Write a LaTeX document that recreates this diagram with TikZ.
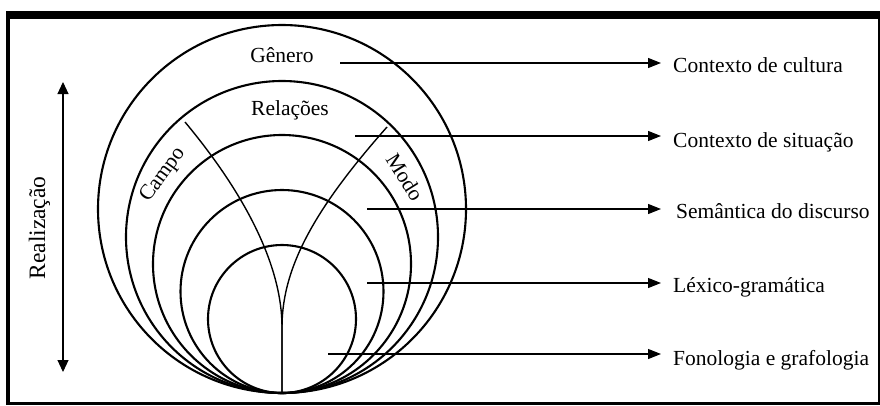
\documentclass[tikz,border=0pt]{standalone}
\usepackage{fontspec}
\setmainfont{Liberation Serif}
\usetikzlibrary{arrows.meta}
\begin{document}
\begin{tikzpicture}[x=1pt,y=-1pt,
  circ/.style={line width=2.1pt},
  strand/.style={line width=1.4pt},
  arr/.style={line width=1.1pt,-{Triangle[length=13pt,width=10pt]}},
  lbl/.style={font=\fontsize{21.5}{25}\selectfont, inner sep=0pt},
]
\useasboundingbox (0,0) rectangle (880,405);
% frame
\fill[black] (6,11) rectangle (880,405);
\fill[white] (10,19) rectangle (878,402);
% circles, all tangent at the bottom point
\foreach \r in {184,156,129,101.5,74}
  \draw[circ] (282,393-\r) circle[radius=\r pt];
% Campo and Modo strands
\coordinate (campoS) at (185,122);
\coordinate (modoS) at (387,127);
\coordinate (cusp) at (282,327);
\coordinate (tip) at (282,393);
\draw[strand] (campoS) .. controls (250,200) and (282,270) .. (cusp) -- (tip);
\draw[strand] (modoS) .. controls (318,205) and (282,265) .. (cusp) -- (tip);
% inner labels
\node[lbl,anchor=base] (genero) at (282,62) {Gênero};
\node[lbl,anchor=base] (relacoes) at (290,115) {Relações};
\node[lbl,rotate=54] (campo) at (163,175) {Campo};
\node[lbl,rotate=-58] (modo) at (405,177) {Modo};
% Realizacao
\coordinate (rt) at (63,82);
\coordinate (rb) at (63,372);
\draw[line width=1.1pt,{Triangle[length=12pt,width=11pt]}-{Triangle[length=12pt,width=11pt]}] (rt) -- (rb);
\node[lbl,font=\fontsize{23.5}{27}\selectfont,rotate=90,anchor=base] (real) at (45,228) {Realização};
% arrows
\coordinate (s1) at (340,63);  \coordinate (e1) at (661,63);
\coordinate (s2) at (355,136); \coordinate (e2) at (661,136);
\coordinate (s3) at (367,209); \coordinate (e3) at (661,209);
\coordinate (s4) at (367,283); \coordinate (e4) at (661,283);
\coordinate (s5) at (328,354); \coordinate (e5) at (661,354);
\foreach \i in {1,...,5} \draw[arr] (s\i) -- (e\i);
% right labels
\node[lbl,anchor=base west] (t1) at (673,72) {Contexto de cultura};
\node[lbl,anchor=base west] (t2) at (673,147) {Contexto de situação};
\node[lbl,anchor=base west] (t3) at (676,218) {Semântica do discurso};
\node[lbl,anchor=base west] (t4) at (673,292) {Léxico-gramática};
\node[lbl,anchor=base west] (t5) at (673,365) {Fonologia e grafologia};
\end{tikzpicture}
\end{document}
